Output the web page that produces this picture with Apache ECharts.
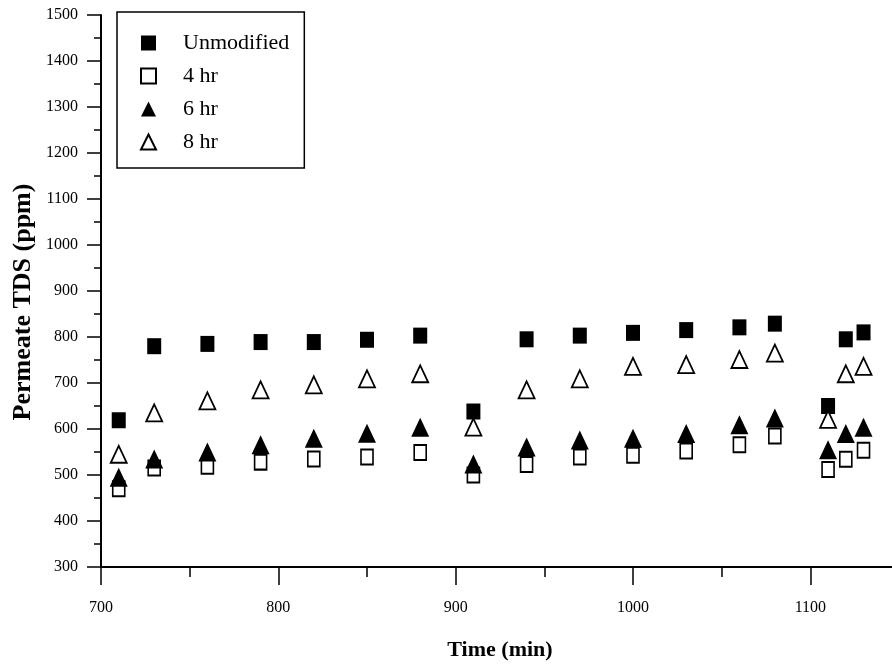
<!DOCTYPE html>
<html>
<head>
<meta charset="utf-8">
<script src="https://cdn.jsdelivr.net/npm/echarts@6/dist/echarts.min.js"></script>
<style>
  html, body { margin: 0; padding: 0; background: #fff; }
  #chart { width: 892px; height: 667px; }
</style>
</head>
<body>
<div id="chart"></div>
<script>
// Sampling times (min)
const times = [710, 730, 760, 790, 820, 850, 880, 910, 940, 970, 1000, 1030, 1060, 1080, 1110, 1120, 1130];

// Permeate TDS (ppm) per membrane
const unmodified = [619, 780, 785, 789, 789, 794, 803, 638, 795, 803, 809, 815, 821, 829, 650, 795, 810];
const hr4 = [470, 515, 519, 528, 535, 539, 549, 500, 523, 539, 543, 552, 566, 585, 512, 534, 554];
const hr6 = [495, 535, 550, 566, 580, 591, 604, 524, 561, 576, 580, 590, 609, 624, 555, 590, 604];
const hr8 = [545, 635, 661, 685, 696, 709, 720, 604, 685, 709, 736, 740, 751, 765, 621, 720, 736];

const seriesNames = ['Unmodified', '4 hr', '6 hr', '8 hr'];
const xTitle = 'Time (min)';
const yTitle = 'Permeate TDS (ppm)';

const serif = 'Liberation Serif';
const pairs = vals => times.map((t, i) => [t, vals[i]]);

const chart = echarts.init(document.getElementById('chart'));

chart.setOption({
  animation: false,
  backgroundColor: '#fff',
  grid: { left: 101, width: 798, top: 15, bottom: 100, containLabel: false, outerBoundsMode: 'none' },
  legend: {
    orient: 'vertical',
    left: 117,
    top: 12,
    padding: [20, 15, 15, 23],
    itemWidth: 15,
    itemHeight: 15,
    itemGap: 11,
    borderColor: '#000',
    borderWidth: 1.5,
    textStyle: { fontFamily: serif, fontSize: 22, color: '#000', padding: [0, 0, 0, 22] },
    data: seriesNames
  },
  graphic: [
    {
      // vertical axis title
      type: 'text',
      x: 23,
      y: 302,
      rotation: Math.PI / 2,
      style: {
        text: yTitle,
        fontFamily: serif,
        fontSize: 26,
        fontWeight: 'bold',
        fill: '#000',
        align: 'center',
        verticalAlign: 'middle'
      }
    }
  ],
  xAxis: [
    {
      type: 'value',
      min: 700,
      max: 1150,
      interval: 100,
      name: xTitle,
      nameLocation: 'middle',
      nameGap: 72,
      nameTextStyle: { fontFamily: serif, fontSize: 22, fontWeight: 'bold', color: '#000' },
      axisLine: { onZero: false, lineStyle: { color: '#000', width: 2 } },
      axisTick: { length: 18, lineStyle: { color: '#000', width: 1.5 } },
      axisLabel: {
        margin: 33,
        fontFamily: serif, fontSize: 16, color: '#000',
        formatter: v => (v % 100 === 0 ? String(v) : '')
      },
      splitLine: { show: false }
    },
    {
      // minor ticks every 50 min
      type: 'value',
      position: 'bottom',
      min: 700,
      max: 1150,
      interval: 50,
      axisLine: { show: false },
      axisTick: { length: 10, lineStyle: { color: '#000', width: 1.5 } },
      axisLabel: { show: false },
      splitLine: { show: false }
    }
  ],
  yAxis: {
    type: 'value',
    min: 300,
    max: 1500,
    interval: 100,
    axisLine: { show: true, onZero: false, lineStyle: { color: '#000', width: 2 } },
    axisTick: { show: true, length: 14, lineStyle: { color: '#000', width: 1.5 } },
    minorTick: { show: true, splitNumber: 2, length: 7, lineStyle: { color: '#000', width: 1.5 } },
    axisLabel: { margin: 23, fontFamily: serif, fontSize: 16, color: '#000', formatter: v => String(v) },
    splitLine: { show: false }
  },
  series: [
    {
      name: seriesNames[0], type: 'scatter', symbol: 'rect', symbolSize: [14, 16],
      itemStyle: { color: '#000', opacity: 1 },
      data: pairs(unmodified)
    },
    {
      name: seriesNames[1], type: 'scatter', symbol: 'rect', symbolSize: [12, 15],
      itemStyle: { color: '#fff', borderColor: '#000', borderWidth: 1.8, opacity: 1 },
      data: pairs(hr4)
    },
    {
      name: seriesNames[2], type: 'scatter', symbol: 'triangle', symbolSize: [18, 19],
      itemStyle: { color: '#000', opacity: 1 },
      data: pairs(hr6)
    },
    {
      name: seriesNames[3], type: 'scatter', symbol: 'triangle', symbolSize: [16, 17],
      itemStyle: { color: '#fff', borderColor: '#000', borderWidth: 1.8, opacity: 1 },
      data: pairs(hr8)
    }
  ]
});
</script>
</body>
</html>
